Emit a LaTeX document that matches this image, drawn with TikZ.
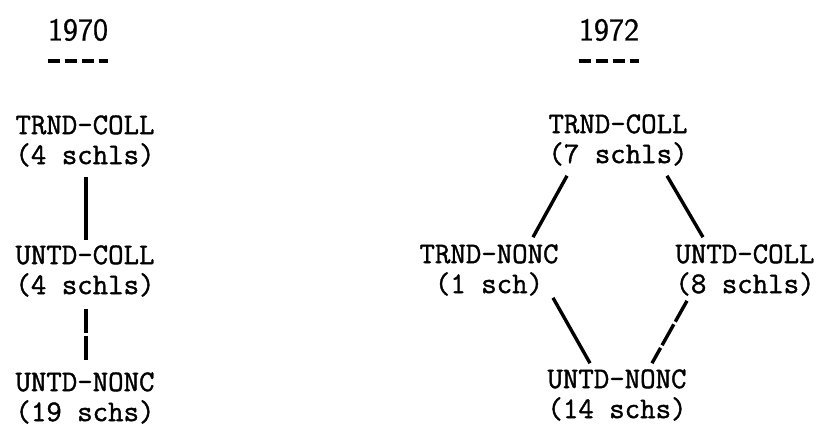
\documentclass[tikz,border=0pt]{standalone}
\usepackage{fontspec}
\newfontfamily\typedface[FakeBold=1.3]{Latin Modern Mono}
\newfontfamily\yearface[FakeBold=0.6]{Latin Modern Sans}
\begin{document}
\begin{tikzpicture}[x=1pt,y=-1pt,
  unit/.style={font=\fontsize{30}{30}\selectfont\typedface, align=center, inner sep=0pt},
  yearlabel/.style={font=\fontsize{32}{32}\selectfont\yearface, inner sep=0pt},
  link/.style={line width=3.4pt},
  brokenlink/.style={link, dash pattern=on 24pt off 3pt},
  rule/.style={line width=4pt, dash pattern=on 12pt off 5pt}]
\useasboundingbox (0,0) rectangle (823,428);

% year headings with their typed underlines
\node[yearlabel] (y70) at (78,30) {1970};
\node[yearlabel] (y72) at (609,30) {1972};
\draw[rule] ([shift={(0,20)}]y70.south west) -- ([shift={(0,20)}]y70.south east);
\draw[rule] ([shift={(0,20)}]y72.south west) -- ([shift={(0,20)}]y72.south east);

% 1970 chain
\node[unit] (l1) at (85,141) {TRND-COLL\\(4 schls)};
\node[unit] (l2) at (85,271) {UNTD-COLL\\(4 schls)};
\node[unit] (l3) at (85,398) {UNTD-NONC\\(19 schs)};
\draw[link] ([shift={(1,10)}]l1.south) -- ([shift={(1,-5)}]l2.north);
\draw[brokenlink] ([shift={(1,12)}]l2.south) -- ([shift={(1,-10)}]l3.north);

% 1972 lattice
\node[unit] (r1) at (618,140) {TRND-COLL\\(7 schls)};
\node[unit] (r2) at (489,270) {TRND-NONC\\(1 sch)};
\node[unit] (r3) at (745,270) {UNTD-COLL\\(8 schls)};
\node[unit] (r4) at (617,395) {UNTD-NONC\\(14 schs)};
\draw[link] ([shift={(-51,10)}]r1.south) -- ([shift={(44,-7)}]r2.north);
\draw[link] ([shift={(49,10)}]r1.south) -- ([shift={(-42,-7)}]r3.north);
\draw[link] ([shift={(64,2)}]r2.south) -- ([shift={(-27,-6)}]r4.north);
\draw[brokenlink] ([shift={(-58,5)}]r3.south) -- ([shift={(35,-6)}]r4.north);
\end{tikzpicture}
\end{document}
